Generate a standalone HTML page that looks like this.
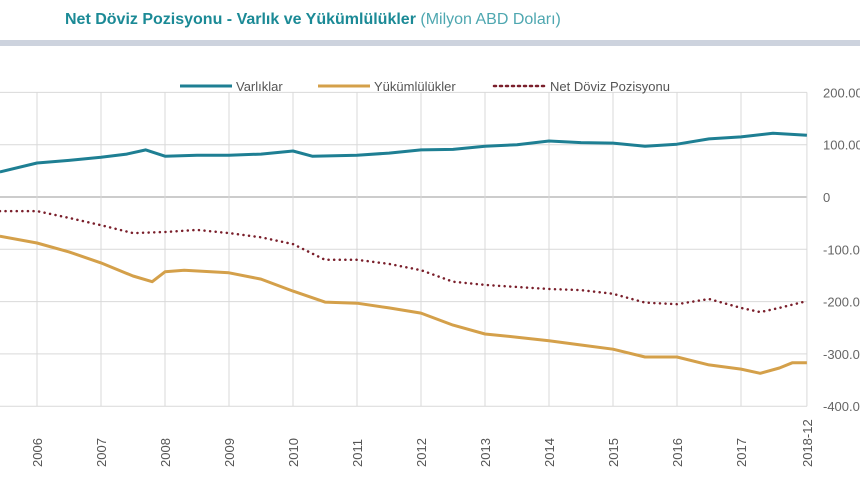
<!DOCTYPE html>
<html><head><meta charset="utf-8"><style>
html,body{margin:0;padding:0;background:#fff;width:860px;height:480px;overflow:hidden;font-family:"Liberation Sans",sans-serif}
</style></head><body>
<svg width="860" height="480" xmlns="http://www.w3.org/2000/svg">
<text x="65" y="24" font-size="16" fill="#1b8a96" font-weight="bold">Net Döviz Pozisyonu - Varlık ve Yükümlülükler <tspan font-weight="normal" fill="#4ea7b0">(Milyon ABD Doları)</tspan></text>
<rect x="0" y="40" width="860" height="6" fill="#cdd3de"/>
<g id="grid"></g>
<g id="series"></g>
<g id="labels"></g>
<g font-size="13" fill="#555">
<g><line x1="180" y1="86" x2="232" y2="86" stroke="#1e7f93" stroke-width="3"/><text x="236" y="91">Varlıklar</text></g>
<g><line x1="318" y1="86" x2="370" y2="86" stroke="#d4a04a" stroke-width="3"/><text x="374" y="91">Yükümlülükler</text></g>
<g><line x1="494" y1="86" x2="546" y2="86" stroke="#7a1f2b" stroke-width="2.5" stroke-dasharray="2,4" stroke-linecap="round"/><text x="550" y="91">Net Döviz Pozisyonu</text></g>
</g>
</svg>
<script>
const yTicks=[200,100,0,-100,-200,-300,-400];
const yTickLabels=["200.000","100.000","0","-100.000","-200.000","-300.000","-400.000"];
const xTicks=[2006,2007,2008,2009,2010,2011,2012,2013,2014,2015,2016,2017,2018.03];
const xTickLabels=["2006","2007","2008","2009","2010","2011","2012","2013","2014","2015","2016","2017","2018-12"];
const tVar=[2005.42,2006,2006.5,2007,2007.4,2007.7,2008,2008.5,2009,2009.5,2010,2010.3,2011,2011.5,2012,2012.5,2013,2013.5,2014,2014.5,2015,2015.5,2016,2016.5,2017,2017.5,2018.03];
const vVar=[48,65,70,76,82,90,78,80,80,82,88,78,80,84,90,91,97,100,107,104,103,97,101,111,115,122,118];
const tYuk=[2005.42,2006,2006.5,2007,2007.5,2007.8,2008,2008.3,2009,2009.5,2010,2010.5,2011,2011.5,2012,2012.5,2013,2013.5,2014,2014.5,2015,2015.5,2016,2016.5,2017,2017.3,2017.6,2017.8,2018.03];
const vYuk=[-75,-88,-105,-126,-151,-162,-143,-140,-145,-157,-180,-201,-203,-212,-222,-245,-262,-268,-275,-283,-291,-306,-306,-321,-329,-337,-327,-317,-317];
const tNet=[2005.42,2006,2006.5,2007,2007.5,2008,2008.5,2009,2009.5,2010,2010.5,2011,2011.5,2012,2012.5,2013,2013.5,2014,2014.5,2015,2015.5,2016,2016.5,2017,2017.3,2017.6,2017.8,2018.03];
const vNet=[-27,-27,-40,-54,-69,-67,-63,-69,-77,-90,-120,-120,-128,-140,-162,-168,-172,-176,-178,-185,-202,-205,-195,-212,-220,-212,-206,-199];
const NS="http://www.w3.org/2000/svg";
const X=t=>37+(t-2006)*64;
const Y=v=>197-v*0.523;
function mk(tag,attrs,parent){const e=document.createElementNS(NS,tag);for(const k in attrs)e.setAttribute(k,attrs[k]);parent.appendChild(e);return e;}
const grid=document.getElementById('grid'),ser=document.getElementById('series'),lab=document.getElementById('labels');
yTicks.forEach((v,i)=>{
 const l=mk('line',{x1:0,x2:807,y1:Y(v),y2:Y(v),stroke:v===0?'#999':'#d9d9d9','stroke-width':1},grid);
 
 
 const t=mk('text',{x:823,y:Y(v)+5,'font-size':13,fill:'#666'},lab);
 t.textContent=yTickLabels[i];
 
 
});
xTicks.forEach((tv,i)=>{
 const l=mk('line',{x1:X(tv),x2:X(tv),y1:Y(200),y2:Y(-400),stroke:'#d9d9d9','stroke-width':1},grid);
 
 
 const x=X(tv)+5,y=467;
 const t=mk('text',{x:x,y:y,'font-size':13,fill:'#555',transform:`rotate(-90 ${x} ${y})`},lab);
 t.textContent=xTickLabels[i];
 
 
});
function line(ts,vs,attrs,name){
 const d=ts.map((t,i)=>(i?'L':'M')+X(t).toFixed(1)+' '+Y(vs[i]).toFixed(1)).join(' ');
 const p=mk('path',Object.assign({d:d,fill:'none','stroke-linejoin':'round'},attrs),ser);
 
 
}
line(tVar,vVar,{stroke:'#1e7f93','stroke-width':3},'varliklar-line');
line(tYuk,vYuk,{stroke:'#d4a04a','stroke-width':3},'yukumlulukler-line');
line(tNet,vNet,{stroke:'#7a1f2b','stroke-width':2.5,'stroke-dasharray':'0.1,5.5','stroke-linecap':'round'},'net-pozisyon-line');
</script>
</body></html>
